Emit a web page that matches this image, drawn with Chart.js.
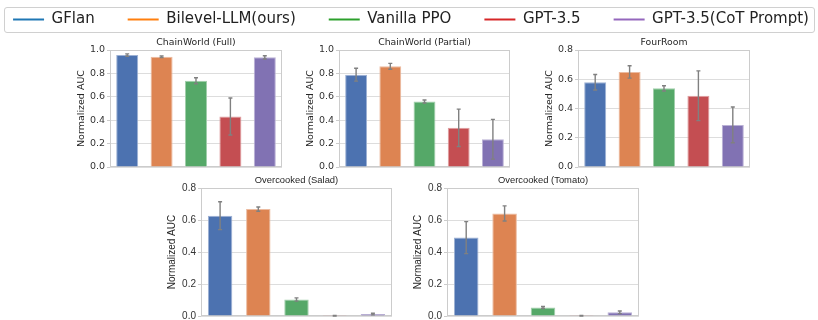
<!DOCTYPE html>
<html>
<head>
<meta charset="utf-8">
<script src="https://cdn.jsdelivr.net/npm/chart.js@4.4.1/dist/chart.umd.min.js"></script>
<style>
  body { margin: 0; width: 818px; height: 320px; overflow: hidden; background: #fff; position: relative; }
  canvas { position: absolute; }
  #legendFrame {
    position: absolute; left: 4px; top: 7px; width: 811px; height: 26px;
    box-sizing: border-box; border: 1px solid #d0d0d0; border-radius: 3px;
  }
</style>
</head>
<body>
<div id="legendFrame"></div>
<canvas id="legend" width="900" height="120" style="left:-39px;top:-21px"></canvas>
<canvas id="c1"></canvas>
<canvas id="c2"></canvas>
<canvas id="c3"></canvas>
<canvas id="c4"></canvas>
<canvas id="c5"></canvas>
<script>
const methods = ["GFlan", "Bilevel-LLM(ours)", "Vanilla PPO", "GPT-3.5", "GPT-3.5(CoT Prompt)"];
const lineColors = ["#1f77b4", "#ff7f0e", "#2ca02c", "#d62728", "#9467bd"];
const barColors = ["#4c72b0", "#dd8452", "#55a868", "#c44e52", "#8172b3"];

const chainFull = [0.957, 0.943, 0.737, 0.432, 0.937];
const chainFullErr = [0.01, 0.007, 0.026, 0.158, 0.014];
const chainPartial = [0.789, 0.861, 0.56, 0.335, 0.237];
const chainPartialErr = [0.055, 0.025, 0.013, 0.16, 0.17];
const fourRoom = [0.579, 0.65, 0.538, 0.487, 0.288];
const fourRoomErr = [0.053, 0.042, 0.018, 0.17, 0.122];
const salad = [0.627, 0.668, 0.103, 0.001, 0.012];
const saladErr = [0.087, 0.013, 0.01, 0.002, 0.005];
const tomato = [0.49, 0.641, 0.053, 0.001, 0.023];
const tomatoErr = [0.1, 0.047, 0.006, 0.002, 0.008];

const yTicksTo1 = [0, 0.2, 0.4, 0.6, 0.8, 1.0];
const yTicksTo08 = [0, 0.2, 0.4, 0.6, 0.8];

// frame box = [left, top, right, bottom] of the plot area in page pixels
const panels = [
  { id: "c1", title: "ChainWorld (Full)", values: chainFull, errors: chainFullErr, ticks: yTicksTo1, box: [110, 50, 282, 167], font: "DejaVu Sans", size: 9.5, titleSize: 9.3, axisWidth: 34 },
  { id: "c2", title: "ChainWorld (Partial)", values: chainPartial, errors: chainPartialErr, ticks: yTicksTo1, box: [339, 50, 510, 167], font: "DejaVu Sans", size: 9.5, titleSize: 9.3, axisWidth: 34 },
  { id: "c3", title: "FourRoom", values: fourRoom, errors: fourRoomErr, ticks: yTicksTo08, box: [578, 50, 750, 167], font: "DejaVu Sans", size: 9.5, titleSize: 9.3, axisWidth: 34 },
  { id: "c4", title: "Overcooked (Salad)", values: salad, errors: saladErr, ticks: yTicksTo08, box: [201, 188, 392, 316], font: "Liberation Sans", size: 10, titleSize: 9.4, axisWidth: 35 },
  { id: "c5", title: "Overcooked (Tomato)", values: tomato, errors: tomatoErr, ticks: yTicksTo08, box: [447, 188, 639, 316], font: "Liberation Sans", size: 10, titleSize: 9.4, axisWidth: 35 },
];

function lighten(hex) {
  const n = parseInt(hex.slice(1), 16);
  const r = Math.round(((n >> 16) & 255) * 0.55 + 255 * 0.45);
  const g = Math.round(((n >> 8) & 255) * 0.55 + 255 * 0.45);
  const b = Math.round((n & 255) * 0.55 + 255 * 0.45);
  return "rgb(" + r + "," + g + "," + b + ")";
}

const framePlugin = {
  id: "frame",
  beforeDatasetsDraw(chart) {
    const a = chart.chartArea;
    const ctx = chart.ctx;
    ctx.save();
    ctx.strokeStyle = "#cccccc";
    ctx.lineWidth = 1;
    ctx.strokeRect(Math.round(a.left) + 0.5, Math.round(a.top) + 0.5,
      Math.round(a.right - a.left) - 1, Math.round(a.bottom - a.top) - 1);
    ctx.restore();
  }
};

const errorBarPlugin = {
  id: "errorBars",
  afterDatasetsDraw(chart, args, opts) {
    const ctx = chart.ctx;
    const yScale = chart.scales.y;
    const values = chart.data.datasets[0].data;
    const bars = chart.getDatasetMeta(0).data;
    ctx.save();
    ctx.strokeStyle = "#808080";
    ctx.lineWidth = 1.4;
    for (let i = 0; i < bars.length; i++) {
      const x = bars[i].x;
      const top = yScale.getPixelForValue(values[i] + opts.errors[i]);
      const bottom = yScale.getPixelForValue(values[i] - opts.errors[i]);
      ctx.beginPath();
      ctx.moveTo(x, top);
      ctx.lineTo(x, bottom);
      ctx.moveTo(x - 2, top);
      ctx.lineTo(x + 2, top);
      ctx.moveTo(x - 2, bottom);
      ctx.lineTo(x + 2, bottom);
      ctx.stroke();
    }
    ctx.restore();
  }
};

function createPanel(p) {
  const canvas = document.getElementById(p.id);
  const [left, top, right, bottom] = p.box;
  const titleHeight = 14;
  const lineHeight = p.titleSize * 1.2;

  canvas.width = p.axisWidth + (right - left) + 3;
  canvas.height = titleHeight + (bottom - top) + 8;
  canvas.style.left = (left - p.axisWidth) + "px";
  canvas.style.top = (top - titleHeight) + "px";

  new Chart(canvas.getContext("2d"), {
    type: "bar",
    data: {
      labels: methods,
      datasets: [{
        data: p.values,
        backgroundColor: barColors,
        borderColor: barColors.map(lighten),
        borderWidth: 1,
        categoryPercentage: 1,
        barPercentage: 0.64,
      }],
    },
    options: {
      responsive: false,
      animation: false,
      devicePixelRatio: 1,
      layout: { padding: { right: 3 } },
      plugins: {
        legend: { display: false },
        tooltip: { enabled: false },
        title: {
          display: true,
          fullSize: false,
          text: p.title,
          color: "#262626",
          font: { family: p.font, size: p.titleSize, weight: "normal" },
          padding: { top: titleHeight - lineHeight - 2, bottom: 2 },
        },
        errorBars: { errors: p.errors },
      },
      scales: {
        x: {
          ticks: { display: false },
          grid: { display: false },
          border: { display: false },
          afterFit: (scale) => { scale.height = 8; },
        },
        y: {
          min: 0,
          max: p.ticks[p.ticks.length - 1],
          afterBuildTicks: (scale) => { scale.ticks = p.ticks.map((v) => ({ value: v })); },
          afterFit: (scale) => { scale.width = p.axisWidth; },
          ticks: {
            color: "#333333",
            padding: 2,
            font: { family: p.font, size: p.size },
            callback: (v) => v.toFixed(1),
          },
          grid: { color: "#dddddd", tickColor: "#cccccc", tickLength: 3 },
          border: { display: false },
          title: {
            display: true,
            text: "Normalized AUC",
            color: "#262626",
            font: { family: p.font, size: p.size },
            padding: { top: 0, bottom: 0 },
          },
        },
      },
    },
    plugins: [framePlugin, errorBarPlugin],
  });
}

panels.forEach(createPanel);

// legend only: one empty dataset per method, axes hidden
new Chart(document.getElementById("legend").getContext("2d"), {
  type: "bar",
  data: {
    labels: [""],
    datasets: methods.map((m, i) => ({
      label: m,
      data: [],
      backgroundColor: lineColors[i],
      borderColor: lineColors[i],
      borderWidth: 0,
    })),
  },
  options: {
    responsive: false,
    animation: false,
    devicePixelRatio: 1,
    scales: { x: { display: false }, y: { display: false } },
    plugins: {
      tooltip: { enabled: false },
      legend: {
        display: true,
        position: "top",
        labels: {
          boxWidth: 31,
          boxHeight: 2,
          padding: 33,
          color: "#222222",
          font: { family: "DejaVu Sans", size: 15 },
        },
      },
    },
  },
});
</script>
</body>
</html>
